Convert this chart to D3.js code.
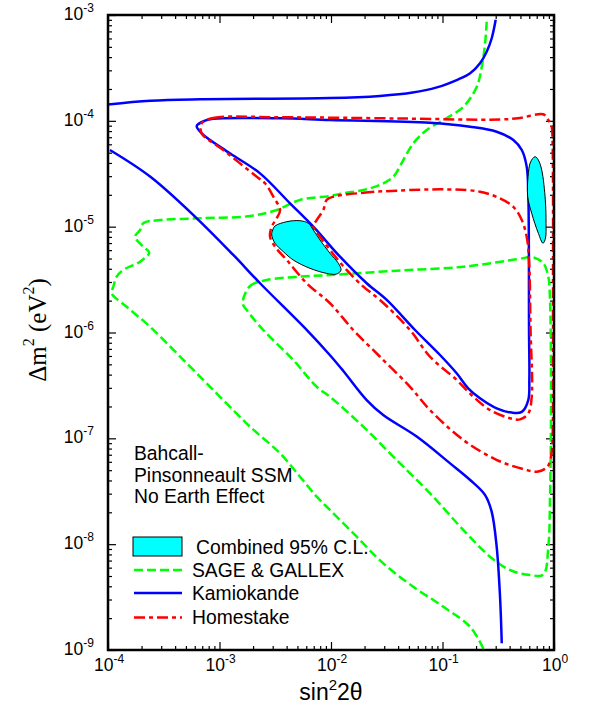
<!DOCTYPE html>
<html>
<head>
<meta charset="utf-8">
<script src="https://cdn.jsdelivr.net/npm/d3@7"></script>
<style>
    body { margin: 0; background: #fff; }
    text { font-family: "Liberation Sans", Arial, sans-serif; fill: #000; }
</style>
</head>
<body>
<svg id="chart" width="593" height="707"></svg>
<script>

// Axis ranges / ticks (decade exponents)
const X_DOMAIN = [1e-4, 1];
const Y_DOMAIN = [1e-9, 1e-3];
const xTickExps = [-4, -3, -2, -1, 0];
const yTickExps = [-3, -4, -5, -6, -7, -8, -9];

// Kamiokande (solid blue) - [sin^2 2theta, dm^2]
const kamUpper = [[1e-4,1.43e-4],[2.4e-4,1.55e-4],[6.7e-4,1.6e-4],[9.8e-3,1.64e-4],[2.75e-2,1.72e-4],[5.4e-2,1.85e-4],[8.9e-2,2.07e-4],[0.134,2.43e-4],[0.177,2.81e-4],[0.217,3.5e-4],[0.249,4.5e-4],[0.276,6.0e-4],[0.300,9.0e-4]];
const kamLower = [[1.04e-4,5.3e-5],[2.4e-4,2.96e-5],[6.25e-4,1.2e-5],[1.33e-3,5.4e-6],[2.31e-3,2.92e-6],[6.05e-3,1.06e-6],[9.8e-3,6.1e-7],[1.29e-2,4.33e-7],[2.09e-2,2.3e-7],[2.94e-2,1.66e-7],[5.87e-2,1.04e-7],[0.117,5.8e-8],[0.177,4.04e-8],[0.241,2.91e-8],[0.276,2.03e-8],[0.306,9.5e-9],[0.328,3.2e-9],[0.340,1.16e-9]];
const kamLoop = [[6.25e-4,8.94e-5],[7.41e-4,1.003e-4],[8.8e-4,1.047e-4],[3.49e-3,1.056e-4],[9.8e-3,1.018e-4],[7.73e-2,9.6e-5],[0.1765,8.8e-5],[0.306,7.89e-5],[0.432,6.59e-5],[0.514,5.3e-5],[0.569,3.69e-5],[0.588,2.07e-5],[0.597,1.056e-6],[0.601,3.56e-7],[0.588,2.3e-7],[0.514,1.78e-7],[0.418,1.75e-7],[0.306,1.92e-7],[0.217,2.39e-7],[0.170,2.97e-7],[0.134,4.12e-7],[9.5e-2,6.13e-7],[5.67e-2,1.056e-6],[3.16e-2,2.03e-6],[2.09e-2,2.92e-6],[1.205e-2,5.2e-6],[6.94e-3,1.0e-5],[4.29e-3,1.66e-5],[2.31e-3,3.19e-5],[1.24e-3,4.93e-5],[6.92e-4,7.62e-5]];

// Homestake (red dash-dot)
const homOuter = [[6.92e-4,9.48e-5],[8.8e-4,1.064e-4],[3.49e-3,1.08e-4],[4.16e-2,1.052e-4],[0.328,1.029e-4],[0.496,1.064e-4],[0.802,1.153e-4],[0.889,1.018e-4],[0.954,8.74e-5],[0.970,6.59e-5],[0.980,2.03e-6],[0.970,9.64e-8],[0.950,7.22e-8],[0.875,5.39e-8],[0.704,4.84e-8],[0.550,5.07e-8],[0.308,6.24e-8],[0.154,9.64e-8],[7.73e-2,1.85e-7],[5.11e-2,3.07e-7],[2.75e-2,5.9e-7],[1.585e-2,1.056e-6],[9.8e-3,1.89e-6],[6.05e-3,2.92e-6],[4.01e-3,4.84e-6],[3.15e-3,6.47e-6],[2.84e-3,8.04e-6],[2.94e-3,1.0e-5],[3.26e-3,1.2e-5],[3.49e-3,1.437e-5],[3.04e-3,1.92e-5],[2.56e-3,2.57e-5],[2.16e-3,2.96e-5],[1.08e-3,5.3e-5],[6.92e-4,7.62e-5]];
const homInner = [[1.049e-2,1.92e-5],[1.95e-2,2.09e-5],[3.88e-2,2.19e-5],[0.109,2.25e-5],[0.217,2.14e-5],[0.328,1.85e-5],[0.432,1.54e-5],[0.514,1.156e-5],[0.569,8.04e-6],[0.597,4.84e-6],[0.616,1.056e-6],[0.631,2.47e-7],[0.588,1.72e-7],[0.496,1.51e-7],[0.403,1.55e-7],[0.267,1.85e-7],[0.189,2.47e-7],[0.134,3.56e-7],[7.73e-2,5.9e-7],[5.11e-2,1.056e-6],[2.75e-2,2.03e-6],[1.95e-2,2.71e-6],[1.38e-2,3.9e-6],[9.8e-3,6.02e-6],[7.97e-3,8.04e-6],[6.94e-3,1.0e-5],[7.44e-3,1.156e-5],[8.53e-3,1.437e-5],[9.15e-3,1.79e-5]];

// SAGE & GALLEX (green dashed)
const galOuter = [[0.249,8.64e-4],[0.241,5.4e-4],[0.225,3.25e-4],[0.203,2.1e-4],[0.154,1.36e-4],[0.102,1.018e-4],[7.22e-2,8.19e-5],[5.47e-2,6.13e-5],[4.45e-2,4.26e-5],[3.62e-2,2.96e-5],[2.75e-2,2.48e-5],[1.95e-2,2.22e-5],[1.29e-2,2.07e-5],[9.8e-3,1.95e-5],[5.27e-3,1.79e-5],[3.26e-3,1.437e-5],[1.88e-3,1.26e-5],[6.68e-4,1.2e-5],[2.93e-4,1.156e-5],[2.07e-4,1.076e-5],[1.94e-4,9.3e-6],[1.75e-4,8.04e-6],[2.07e-4,6.47e-6],[2.34e-4,5.68e-6],[1.94e-4,4.67e-6],[1.37e-4,3.9e-6],[1.197e-4,3.37e-6],[1.116e-4,2.71e-6],[1.08e-4,2.35e-6],[1.47e-4,1.75e-6],[2.38e-4,1.135e-6],[5.08e-4,5.12e-7],[1.01e-3,2.47e-7],[1.88e-3,1.288e-7],[3.49e-3,7.22e-8],[5.27e-3,4.34e-8],[7.44e-3,2.81e-8],[9.8e-3,2.1e-8],[1.7e-2,1.176e-8],[2.94e-2,6.59e-9],[5.47e-2,3.96e-9],[0.1017,2.56e-9],[0.1765,1.66e-9],[0.236,1e-9]];
const galInner = [[1.615e-3,1.89e-6],[1.88e-3,2.75e-6],[2.65e-3,3.13e-6],[5.27e-3,3.37e-6],[9.8e-3,3.49e-6],[3.88e-2,3.84e-6],[0.154,4.18e-6],[0.463,4.91e-6],[0.652,5.13e-6],[0.802,4.51e-6],[0.889,3.37e-6],[0.921,2.03e-6],[0.940,2.3e-7],[0.921,2.81e-8],[0.889,9.46e-9],[0.802,5.17e-9],[0.609,5.11e-9],[0.403,5.7e-9],[0.267,7.61e-9],[0.154,1.36e-8],[7.73e-2,3.02e-8],[3.88e-2,6.24e-8],[1.95e-2,1.288e-7],[9.8e-3,2.47e-7],[7.44e-3,3.07e-7],[4.59e-3,5.5e-7],[2.47e-3,1.056e-6],[1.754e-3,1.63e-6]];

// Combined 95% C.L. (cyan regions)
const combinedSmall = [[3.15e-3,1.015e-5],[4.01e-3,1.114e-5],[5.27e-3,1.138e-5],[6.26e-3,1.076e-5],[6.94e-3,9.3e-6],[7.97e-3,7.48e-6],[9.8e-3,5.6e-6],[1.163e-2,4.51e-6],[1.23e-2,3.9e-6],[1.125e-2,3.57e-6],[9.15e-3,3.62e-6],[6.48e-3,4.04e-6],[4.59e-3,4.84e-6],[3.74e-3,5.8e-6],[3.15e-3,6.97e-6],[2.94e-3,8.34e-6],[3.0e-3,9.3e-6]];
const combinedLarge = [[0.676,4.58e-5],[0.616,4.08e-5],[0.585,2.96e-5],[0.581,1.92e-5],[0.631,1.337e-5],[0.724,8.66e-6],[0.797,6.97e-6],[0.839,7.81e-6],[0.848,1.076e-5],[0.836,1.79e-5],[0.776,3.43e-5],[0.724,4.26e-5]];

// Text
const noteLines = ['Bahcall-', 'Pinsonneault SSM', 'No Earth Effect'];
const legendItems = [
    { label: 'SAGE & GALLEX', color: '#00ff00', dash: '9,4' },
    { label: 'Kamiokande',    color: '#0000ff', dash: null },
    { label: 'Homestake',     color: '#ff0000', dash: '11,4,4,4' }
];

// Layout
const LEFT = 108, RIGHT = 554, TOP = 15, BOTTOM = 650;
const COLOR_CYAN = '#00ffff';

const svg = d3.select('#chart');

const x = d3.scaleLog().domain(X_DOMAIN).range([LEFT, RIGHT]);
const y = d3.scaleLog().domain(Y_DOMAIN).range([BOTTOM, TOP]);

const majorX = xTickExps.map((e) => Math.pow(10, e));
const majorY = yTickExps.map((e) => Math.pow(10, e));
const minorX = d3.range(-4, 0).flatMap((e) => d3.range(2, 10).map((k) => k * Math.pow(10, e)));
const minorY = d3.range(-9, -3).flatMap((e) => d3.range(2, 10).map((k) => k * Math.pow(10, e)));

// Clip
svg.append('defs').append('clipPath').attr('id', 'plot-clip')
    .append('rect')
        .attr('x', LEFT).attr('y', TOP)
        .attr('width', RIGHT - LEFT).attr('height', BOTTOM - TOP);

// Ticks, inward on all four sides
function ticks(axis, transform) {
    svg.append('g')
        .attr('transform', transform)
        .call(axis)
        .call((g) => {
            g.select('.domain').remove();
            g.selectAll('text').remove();
            g.selectAll('line').attr('stroke', '#000').attr('stroke-width', 1.2);
        });
}
ticks(d3.axisBottom(x).tickValues(majorX).tickSize(-8), 'translate(0,' + BOTTOM + ')');
ticks(d3.axisBottom(x).tickValues(minorX).tickSize(-4), 'translate(0,' + BOTTOM + ')');
ticks(d3.axisTop(x).tickValues(majorX).tickSize(-8), 'translate(0,' + TOP + ')');
ticks(d3.axisTop(x).tickValues(minorX).tickSize(-4), 'translate(0,' + TOP + ')');
ticks(d3.axisLeft(y).tickValues(majorY).tickSize(-8), 'translate(' + LEFT + ',0)');
ticks(d3.axisLeft(y).tickValues(minorY).tickSize(-4), 'translate(' + LEFT + ',0)');
ticks(d3.axisRight(y).tickValues(majorY).tickSize(-8), 'translate(' + RIGHT + ',0)');
ticks(d3.axisRight(y).tickValues(minorY).tickSize(-4), 'translate(' + RIGHT + ',0)');

// Tick labels 10^n
function powerLabel(sel, e) {
    sel.append('tspan').text('10');
    sel.append('tspan').attr('dy', -8).attr('font-size', 12).text(e);
}
xTickExps.forEach((e) => {
    svg.append('text')
        .attr('x', x(Math.pow(10, e)) + 1)
        .attr('y', 671)
        .attr('text-anchor', 'middle')
        .attr('font-size', 17.5)
        .call(powerLabel, e);
});
yTickExps.forEach((e) => {
    svg.append('text')
        .attr('x', 94)
        .attr('y', y(Math.pow(10, e)) + 5)
        .attr('text-anchor', 'end')
        .attr('font-size', 17.5)
        .call(powerLabel, e);
});

// Curves
const lineOpen = d3.line()
    .x((d) => x(d[0])).y((d) => y(d[1]))
    .curve(d3.curveCatmullRom.alpha(0.5));
const lineClosed = d3.line()
    .x((d) => x(d[0])).y((d) => y(d[1]))
    .curve(d3.curveCatmullRomClosed.alpha(0.5));

const plot = svg.append('g').attr('clip-path', 'url(#plot-clip)');

function curve(data, closed, color, dash) {
    plot.append('path')
        .attr('d', (closed ? lineClosed : lineOpen)(data))
        .attr('fill', 'none')
        .attr('stroke', color)
        .attr('stroke-width', 2.5)
        .attr('stroke-dasharray', dash)
        .attr('stroke-linejoin', 'round');
}

curve(galOuter, false, '#00ff00', '9,4');
curve(galInner, true, '#00ff00', '9,4');
curve(kamUpper, false, '#0000ff', null);
curve(kamLower, false, '#0000ff', null);
curve(kamLoop, true, '#0000ff', null);
curve(homOuter, true, '#ff0000', '11,4,4,4');
curve(homInner, true, '#ff0000', '11,4,4,4');

[combinedSmall, combinedLarge].forEach((region) => {
    plot.append('path')
        .attr('d', lineClosed(region))
        .attr('fill', COLOR_CYAN)
        .attr('stroke', '#000')
        .attr('stroke-width', 1);
});

// Frame
svg.append('rect')
    .attr('x', LEFT).attr('y', TOP)
    .attr('width', RIGHT - LEFT).attr('height', BOTTOM - TOP)
    .attr('fill', 'none')
    .attr('stroke', '#000')
    .attr('stroke-width', 2.5);

// Axis titles
const xTitle = svg.append('text')
    .attr('x', 331).attr('y', 700)
    .attr('text-anchor', 'middle')
    .attr('font-size', 23);
xTitle.append('tspan').text('sin');
xTitle.append('tspan').attr('dy', -10).attr('font-size', 15).text('2');
xTitle.append('tspan').attr('dy', 10).text('2θ');

const yTitle = svg.append('text')
    .attr('transform', 'translate(46,330) rotate(-90)')
    .attr('text-anchor', 'middle')
    .attr('font-size', 25)
    .style('font-family', '"Liberation Serif", "Times New Roman", serif');
yTitle.append('tspan').text('Δm');
yTitle.append('tspan').attr('dy', -12).attr('font-size', 16).text('2');
yTitle.append('tspan').attr('dy', 12).text(' (eV');
yTitle.append('tspan').attr('dy', -12).attr('font-size', 16).text('2');
yTitle.append('tspan').attr('dy', 12).text(')');

// Note
svg.append('g').selectAll('text')
    .data(noteLines)
    .enter().append('text')
        .attr('x', 134)
        .attr('y', (d, i) => 460 + i * 21.5)
        .attr('font-size', 19.3)
        .text((d) => d);

// Legend
const legend = svg.append('g');
legend.append('rect')
    .attr('x', 133).attr('y', 537)
    .attr('width', 49).attr('height', 19)
    .attr('fill', COLOR_CYAN)
    .attr('stroke', '#000')
    .attr('stroke-width', 1);
legend.append('text')
    .attr('x', 196).attr('y', 554)
    .attr('font-size', 19.3)
    .text('Combined 95% C.L.');

const legendY = [570, 593, 617.5];
legendItems.forEach((item, i) => {
    legend.append('line')
        .attr('x1', 134).attr('x2', 182)
        .attr('y1', legendY[i]).attr('y2', legendY[i])
        .attr('stroke', item.color)
        .attr('stroke-width', 2.5)
        .attr('stroke-dasharray', item.dash);
    legend.append('text')
        .attr('x', 192).attr('y', legendY[i] + 6.5)
        .attr('font-size', 19.3)
        .text(item.label);
});

</script>
</body>
</html>
